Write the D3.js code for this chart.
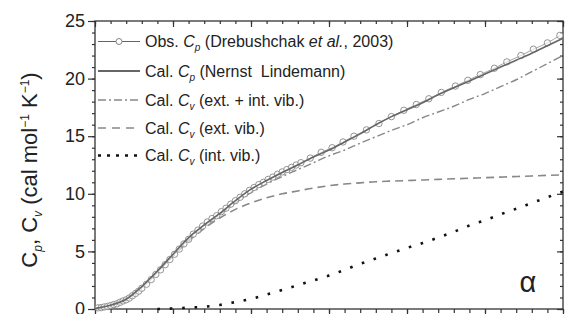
<html>
<head>
<meta charset="utf-8">
<script src="https://cdn.jsdelivr.net/npm/d3@7"></script>
<style>
body { margin:0; padding:0; background:white; }
text { font-family: Arial, "Liberation Sans", sans-serif; fill:#222; }
</style>
</head>
<body>
<div id="chart"></div>
<script>
// temperature grid (K) for calculated curves
var calT = [0,10,20,30,40,50,60,70,80,90,100,110,120,130,140,150,160,170,180,190,200,210,220,230,240,250,260,270,280,290,300];
// Cal. Cp (Nernst Lindemann)
var cpCalc = [0.05,0.33,0.85,1.95,3.3,4.75,6.2,7.3,8.3,9.4,10.4,11.15,11.85,12.5,13.2,13.8,14.5,15.2,16.0,16.7,17.3,17.9,18.6,19.2,19.8,20.4,21.0,21.6,22.2,22.85,23.5];
// Cal. Cv (ext. + int. vib.)
var cvTotal = [0.05,0.33,0.85,1.9,3.25,4.7,6.1,7.25,8.2,9.2,10.1,10.85,11.5,12.1,12.7,13.3,13.8,14.4,14.95,15.5,16.0,16.6,17.1,17.6,18.2,18.7,19.3,19.9,20.6,21.3,22.0];
// Cal. Cv (ext. vib.)
var cvExt = [0.05,0.33,0.85,1.9,3.2,4.6,5.9,7.0,7.9,8.65,9.2,9.65,10.0,10.25,10.5,10.7,10.85,10.95,11.05,11.1,11.15,11.2,11.25,11.3,11.35,11.4,11.45,11.5,11.55,11.6,11.65];
// Cal. Cv (int. vib.)
var cvInt = [0,0,0,0,0,0.04,0.12,0.19,0.35,0.6,0.88,1.25,1.65,2.07,2.48,2.9,3.4,3.92,4.38,4.85,5.3,5.72,6.2,6.7,7.25,7.7,8.22,8.7,9.2,9.7,10.2];

// Obs. Cp (Drebushchak et al., 2003)
var obsT = [2,4,6,8,10,12,14,16,18,20,22,24,26,28,30,33,36,39,42,45,48,51,54,57,60,63,66,69,72,75,78,81,84,87,90,93,96,99,102,105,108,111,114,117,120,123,126,129,132,138,145,152,159,166,174,182,190,198,206,214,222,231,239,247,256,264,273,281,290,298];
var obsCp = [0.1,0.12,0.18,0.22,0.3,0.38,0.45,0.58,0.7,0.8,0.95,1.15,1.35,1.55,1.8,2.15,2.55,3.0,3.4,3.85,4.3,4.75,5.2,5.65,6.05,6.5,6.85,7.2,7.55,7.85,8.1,8.45,8.75,9.1,9.4,9.7,10.0,10.3,10.55,10.8,11.0,11.25,11.45,11.7,11.9,12.1,12.3,12.5,12.7,13.1,13.6,14.0,14.5,15.0,15.55,16.1,16.7,17.25,17.75,18.25,18.8,19.35,19.85,20.35,20.9,21.45,22.0,22.55,23.1,23.75];

var yTicks = [0,5,10,15,20,25];

var W = 565, H = 314;
var mLeft = 95, mRight = 563, mTop = 21, mBottom = 309;

var svg = d3.select("#chart").append("svg")
  .attr("width", W).attr("height", H);

var x = d3.scaleLinear().domain([0,300]).range([mLeft,mRight]);
var y = d3.scaleLinear().domain([0,25]).range([mBottom,mTop]);

function styleAxis(g){
  g.select(".domain").remove();
  g.selectAll("line").attr("stroke","#333").attr("stroke-width",1.2);
  g.selectAll("text").attr("font-size","18px").attr("fill","#222")
    .style("font-family","Arial, 'Liberation Sans', sans-serif");
}

// left axis (outward)
svg.append("g").attr("transform","translate("+mLeft+",0)")
  .call(d3.axisLeft(y).ticks(25).tickSize(3).tickFormat(""))
  .call(styleAxis);
svg.append("g").attr("transform","translate("+mLeft+",0)")
  .call(d3.axisLeft(y).tickValues(yTicks).tickSize(7).tickPadding(3))
  .call(styleAxis);

// right axis (inward)
svg.append("g").attr("transform","translate("+mRight+",0)")
  .call(d3.axisRight(y).ticks(25).tickSize(-3).tickFormat(""))
  .call(styleAxis);
svg.append("g").attr("transform","translate("+mRight+",0)")
  .call(d3.axisRight(y).tickValues(yTicks).tickSize(-6).tickFormat(""))
  .call(styleAxis);

// top axis (inward)
svg.append("g").attr("transform","translate(0,"+mTop+")")
  .call(d3.axisTop(x).ticks(30).tickSize(-3).tickFormat(""))
  .call(styleAxis);
svg.append("g").attr("transform","translate(0,"+mTop+")")
  .call(d3.axisTop(x).ticks(6).tickSize(-6).tickFormat(""))
  .call(styleAxis);

// bottom axis (outward, labels fall outside the picture)
svg.append("g").attr("transform","translate(0,"+mBottom+")")
  .call(d3.axisBottom(x).ticks(30).tickSize(4).tickFormat(""))
  .call(styleAxis);
svg.append("g").attr("transform","translate(0,"+mBottom+")")
  .call(d3.axisBottom(x).ticks(6).tickSize(7).tickFormat(""))
  .call(styleAxis);

// frame
svg.append("rect")
  .attr("x",mLeft).attr("y",mTop)
  .attr("width",mRight-mLeft).attr("height",mBottom-mTop)
  .attr("fill","none").attr("stroke","#333").attr("stroke-width",1.3);

var line = d3.line()
  .x(function(d){ return x(d[0]); })
  .y(function(d){ return y(d[1]); })
  .curve(d3.curveMonotoneX);

function pairs(xs, ys){
  return xs.map(function(v,i){ return [v, ys[i]]; });
}

// Cv int (dotted) - skip the part lying on the axis
var intPts = pairs(calT, cvInt).filter(function(d){ return d[0] >= 40; });
svg.append("path").attr("d", line(intPts))
  .attr("fill","none").attr("stroke","#111").attr("stroke-width",2.6)
  .attr("stroke-dasharray","2.6,9.8");

svg.append("path").attr("d", line(pairs(calT, cvExt)))
  .attr("fill","none").attr("stroke","#888").attr("stroke-width",1.6)
  .attr("stroke-dasharray","8,5");

svg.append("path").attr("d", line(pairs(calT, cvTotal)))
  .attr("fill","none").attr("stroke","#888").attr("stroke-width",1.4)
  .attr("stroke-dasharray","8,3,2,3");

// observed
svg.append("path").attr("d", line(pairs(obsT, obsCp)))
  .attr("fill","none").attr("stroke","#999").attr("stroke-width",0.9);
svg.selectAll("circle.obs")
  .data(pairs(obsT, obsCp))
  .enter()
  .append("circle")
  .attr("class","obs")
  .attr("cx", function(d){ return x(d[0]); })
  .attr("cy", function(d){ return y(d[1]); })
  .attr("r", 3.2)
  .attr("fill","white").attr("fill-opacity",0.6)
  .attr("stroke","#888").attr("stroke-width",0.9);

svg.append("path").attr("d", line(pairs(calT, cpCalc)))
  .attr("fill","none").attr("stroke","#666").attr("stroke-width",1.6);

// legend
var legY = [41.5, 71, 100, 128, 155.5];
var lx1 = 98, lx2 = 140, tx = 145;
var legFont = "16px";

function addSub(t, s){
  t.append("tspan").attr("font-size","10px").attr("font-style","italic").attr("dy",4).text(s);
  return t;
}

// row 1
svg.append("line").attr("x1",lx1).attr("x2",lx2).attr("y1",legY[0]).attr("y2",legY[0])
  .attr("stroke","#666").attr("stroke-width",1);
svg.append("circle").attr("cx",(lx1+lx2)/2).attr("cy",legY[0]).attr("r",3)
  .attr("fill","white").attr("stroke","#777").attr("stroke-width",0.9);
var t1 = svg.append("text").attr("x",tx).attr("y",legY[0]+5.5).attr("font-size",legFont);
t1.append("tspan").text("Obs. ");
t1.append("tspan").attr("font-style","italic").text("C");
addSub(t1,"p");
t1.append("tspan").attr("dy",-4).text(" (Drebushchak ");
t1.append("tspan").attr("font-style","italic").text("et al.");
t1.append("tspan").text(", 2003)");

// row 2
svg.append("line").attr("x1",lx1).attr("x2",lx2).attr("y1",legY[1]).attr("y2",legY[1])
  .attr("stroke","#666").attr("stroke-width",1.8);
var t2 = svg.append("text").attr("x",tx).attr("y",legY[1]+5.5).attr("font-size",legFont);
t2.append("tspan").text("Cal. ");
t2.append("tspan").attr("font-style","italic").text("C");
addSub(t2,"p");
t2.append("tspan").attr("dy",-4).text(" (Nernst\u00a0 Lindemann)");

// row 3
svg.append("line").attr("x1",lx1).attr("x2",lx2).attr("y1",legY[2]).attr("y2",legY[2])
  .attr("stroke","#888").attr("stroke-width",1.4).attr("stroke-dasharray","8,3,2,3");
var t3 = svg.append("text").attr("x",tx).attr("y",legY[2]+5.5).attr("font-size",legFont);
t3.append("tspan").text("Cal. ");
t3.append("tspan").attr("font-style","italic").text("C");
addSub(t3,"v");
t3.append("tspan").attr("dy",-4).text(" (ext. + int. vib.)");

// row 4
svg.append("line").attr("x1",lx1).attr("x2",lx2).attr("y1",legY[3]).attr("y2",legY[3])
  .attr("stroke","#888").attr("stroke-width",1.6).attr("stroke-dasharray","8,6");
var t4 = svg.append("text").attr("x",tx).attr("y",legY[3]+5.5).attr("font-size",legFont);
t4.append("tspan").text("Cal. ");
t4.append("tspan").attr("font-style","italic").text("C");
addSub(t4,"v");
t4.append("tspan").attr("dy",-4).text(" (ext. vib.)");

// row 5
svg.append("line").attr("x1",lx1).attr("x2",lx2).attr("y1",legY[4]).attr("y2",legY[4])
  .attr("stroke","#111").attr("stroke-width",2.4).attr("stroke-dasharray","3,6");
var t5 = svg.append("text").attr("x",tx).attr("y",legY[4]+5.5).attr("font-size",legFont);
t5.append("tspan").text("Cal. ");
t5.append("tspan").attr("font-style","italic").text("C");
addSub(t5,"v");
t5.append("tspan").attr("dy",-4).text(" (int. vib.)");

// y axis title
var yl = svg.append("text")
  .attr("transform","translate(37,170) rotate(-90)")
  .attr("text-anchor","middle")
  .attr("font-size","22px");
yl.append("tspan").text("C");
yl.append("tspan").attr("font-size","12px").attr("font-style","italic").attr("dy",5).text("p");
yl.append("tspan").attr("dy",-5).text(", C");
yl.append("tspan").attr("font-size","12px").attr("font-style","italic").attr("dy",5).text("v");
yl.append("tspan").attr("dy",-5).text(" (cal mol");
yl.append("tspan").attr("font-size","12px").attr("dy",-8).text("\u22121");
yl.append("tspan").attr("dy",8).text(" K");
yl.append("tspan").attr("font-size","12px").attr("dy",-8).text("\u22121");
yl.append("tspan").attr("dy",8).text(")");

// panel label
svg.append("text").attr("x",528).attr("y",292)
  .attr("text-anchor","middle").attr("font-size","29px")
  .text("\u03b1");
</script>
</body>
</html>
